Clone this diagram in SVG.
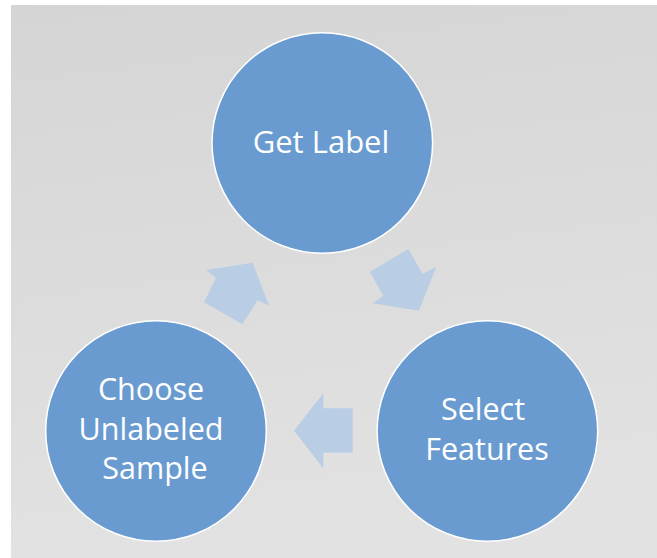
<svg xmlns="http://www.w3.org/2000/svg" width="657" height="558" viewBox="0 0 657 558">
  <defs>
    <linearGradient id="bg" x1="0" y1="0" x2="0.15" y2="1">
      <stop offset="0" stop-color="#d5d5d5"/>
      <stop offset="1" stop-color="#e2e2e2"/>
    </linearGradient>
    <style>
      .node { fill: #699bd0; stroke: #ffffff; stroke-width: 1.5; }
      .label { fill: #ffffff; font-family: "Open Sans", "Noto Sans", sans-serif; text-anchor: middle; }
      .arrow { fill: #b9cde5; }
    </style>
  </defs>

  <rect x="0" y="0" width="657" height="558" fill="#ffffff"/>
  <rect x="11" y="5" width="646" height="553" fill="url(#bg)"/>

  <!-- cycle arrows -->
  <g id="connectors">
    <polygon class="arrow" points="252.7,262.7 269,305.7 257.7,300 242.3,324.3 204,302.3 216,277.7 206,270"/>
    <polygon class="arrow" points="408.3,249 422.7,274 436,267.3 419,310.7 372.7,303.3 383.3,296 370,271.7"/>
    <polygon class="arrow" points="294,430.7 323.3,393.3 323.3,408.3 352.7,408.3 352.7,452.7 323.3,452.7 323.3,468.3"/>
  </g>

  <g id="get-label">
    <circle class="node" cx="322.3" cy="143" r="110.3"/>
    <text class="label" x="321" y="153" font-size="31">Get Label</text>
  </g>

  <g id="select-features">
    <circle class="node" cx="487.4" cy="431" r="110.3"/>
    <text class="label" font-size="30.5">
      <tspan x="487" y="420">Select</tspan>
      <tspan x="487" y="460">Features</tspan>
    </text>
  </g>

  <g id="choose-unlabeled-sample">
    <circle class="node" cx="156" cy="431" r="110.3"/>
    <text class="label" font-size="30.5">
      <tspan x="155" y="400">Choose</tspan>
      <tspan x="155" y="440">Unlabeled</tspan>
      <tspan x="155" y="479">Sample</tspan>
    </text>
  </g>
</svg>
